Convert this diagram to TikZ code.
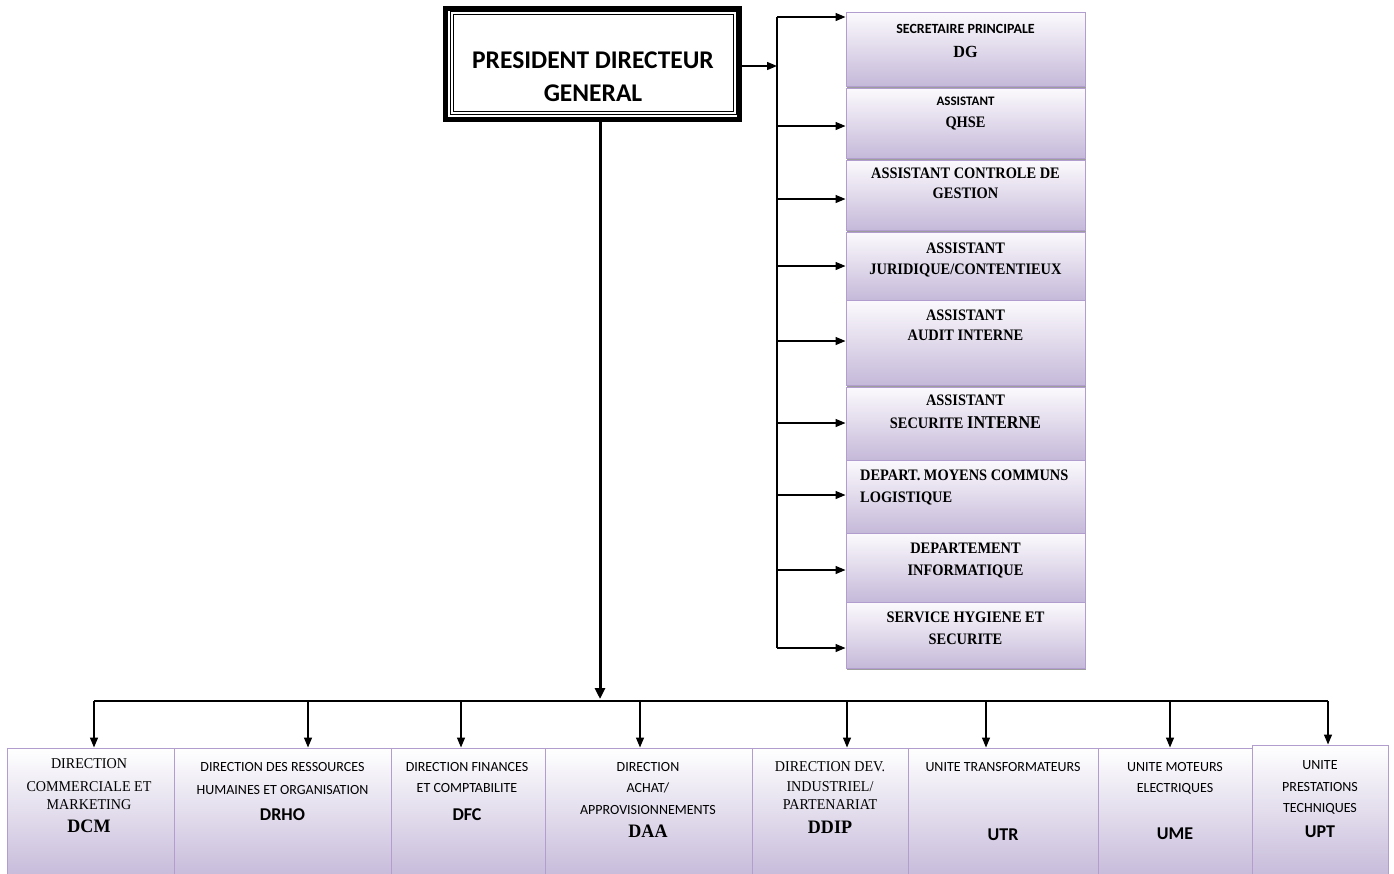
\documentclass[tikz,border=0pt]{standalone}
\usepackage{fontspec}
\usetikzlibrary{arrows.meta,shadows}
\newfontfamily\sansf{Carlito}
\newfontfamily\serc[FakeStretch=0.9]{Liberation Serif}
\newfontfamily\serr[FakeStretch=0.94]{Liberation Serif}
\newfontfamily\serw[FakeStretch=0.95]{Liberation Serif}
\newcommand\fs[1]{\fontsize{#1}{#1}\selectfont}

\definecolor{lavtop}{RGB}{252,250,253}
\definecolor{lavbot}{RGB}{197,185,217}
\definecolor{lavline}{RGB}{178,158,206}

\tikzset{
  rbox/.style={draw=lavline, line width=1, top color=lavtop, bottom color=lavbot,
    minimum width=239, minimum height=#1, inner sep=0,
    drop shadow={shadow xshift=0.5, shadow yshift=-2, fill=black!55, opacity=0.7}},
  bbox/.style={draw=lavline, line width=1, top color=white, bottom color=lavbot,
    minimum width=#1, inner sep=0},
  tl/.style={anchor=base, inner sep=0},
  tlw/.style={anchor=base west, inner sep=0},
  arr/.style={line width=1.4, -{Triangle[length=10,width=8]}},
  bigarr/.style={line width=3, -{Triangle[length=11,width=10]}},
  busline/.style={line width=1.4},
  hbus/.style={line width=2},
  sb/.style={font=\sansf\bfseries\fs{#1}},
  sr/.style={font=\sansf\fs{#1}},
  cb/.style={font=\serc\bfseries\fs{#1}},
  cr/.style={font=\serr\fs{#1}},
  wb/.style={font=\serw\bfseries\fs{#1}},
}

\begin{document}
\begin{tikzpicture}[x=1pt,y=1pt]
\useasboundingbox (0,0) rectangle (1394,-873);

% ---- President directeur general ----
\node[draw, line width=5, minimum width=294, minimum height=111, inner sep=0] (pdg) at (592.5,-64) {};
\draw[double, line width=0.8, double distance=1.5]
  ([shift={(9,-7)}]pdg.north west) rectangle ([shift={(-7,9)}]pdg.south east);
\node[tl, sb=25.5] (pdgt1) at (593,-68.5) {PRESIDENT DIRECTEUR};
\node[tl, sb=25.5] (pdgt2) at (593,-101) {GENERAL};

% ---- staff boxes on the right ----
\node[rbox=74] (rb1) at (965.5,-49) {};
\node[rbox=70] (rb2) at (965.5,-123) {};
\node[rbox=70] (rb3) at (965.5,-195) {};
\node[rbox=68] (rb4) at (965.5,-266) {};
\node[rbox=85] (rb5) at (965.5,-342.5) {};
\node[rbox=73] (rb6) at (965.5,-423.5) {};
\node[rbox=73] (rb7) at (965.5,-496.5) {};
\node[rbox=69] (rb8) at (965.5,-567.5) {};
\node[rbox=66] (rb9) at (965.5,-635) {};

\node[tl, sb=14] (rb1a) at (965.5,-33.5) {SECRETAIRE PRINCIPALE};
\node[tl, wb=17] (rb1b) at (965.5,-57.7) {DG};
\node[tl, sb=13] (rb2a) at (965.5,-105.5) {ASSISTANT};
\node[tl, cb=16] (rb2b) at (965.5,-127.3) {QHSE};
\node[tl, cb=16] (rb3a) at (965.5,-178.3) {ASSISTANT CONTROLE DE};
\node[tl, cb=16] (rb3b) at (965.5,-198.3) {GESTION};
\node[tl, cb=16] (rb4a) at (965.5,-253.3) {ASSISTANT};
\node[tl, cb=16] (rb4b) at (965.5,-274.3) {JURIDIQUE/CONTENTIEUX};
\node[tl, cb=16] (rb5a) at (965.5,-320.3) {ASSISTANT};
\node[tl, cb=16] (rb5b) at (965.5,-340.3) {AUDIT INTERNE};
\node[tl, cb=16] (rb6a) at (965.5,-405.3) {ASSISTANT};
\node[tl, cb=16] (rb6b) at (965.5,-428.5) {SECURITE {\fs{18}INTERNE}};
\node[tlw, cb=16] (rb7a) at (860,-480.3) {DEPART. MOYENS COMMUNS};
\node[tlw, cb=16] (rb7b) at (860,-502.3) {LOGISTIQUE};
\node[tl, cb=16] (rb8a) at (965.5,-553.3) {DEPARTEMENT};
\node[tl, cb=16] (rb8b) at (965.5,-575.3) {INFORMATIQUE};
\node[tl, cb=16] (rb9a) at (965.5,-622.3) {SERVICE HYGIENE ET};
\node[tl, cb=16] (rb9b) at (965.5,-644.3) {SECURITE};

% ---- right-hand distribution bus ----
\coordinate (v0) at (777,-66);
\coordinate (v1) at (777,-17);
\coordinate (v2) at (777,-126);
\coordinate (v3) at (777,-199);
\coordinate (v4) at (777,-266);
\coordinate (v5) at (777,-341);
\coordinate (v6) at (777,-423);
\coordinate (v7) at (777,-495);
\coordinate (v8) at (777,-570);
\coordinate (v9) at (777,-648);
\draw[busline] (v1) -- (v9);
\draw[arr] (pdg.east |- v0) -- (v0);
\foreach \i in {1,...,9} {
  \draw[arr] (v\i) -- (v\i -| rb\i.west);
}

% ---- directions and units along the bottom ----
\node[bbox=167, minimum height=132] (dcm)  at (90.5,-814) {};
\node[bbox=217, minimum height=132] (drho) at (282.5,-814) {};
\node[bbox=154, minimum height=132] (dfc)  at (468,-814) {};
\node[bbox=207, minimum height=132] (daa)  at (648.5,-814) {};
\node[bbox=156, minimum height=132] (ddip) at (830,-814) {};
\node[bbox=190, minimum height=132] (utr)  at (1003,-814) {};
\node[bbox=154, minimum height=132] (ume)  at (1175,-814) {};
\node[bbox=136, minimum height=135] (upt)  at (1320,-812.5) {};

\node[tl, cr=15] (dcma) at (89,-768) {DIRECTION};
\node[tl, cr=15] (dcmb) at (89,-791) {COMMERCIALE ET};
\node[tl, cr=15] (dcmc) at (89,-809) {MARKETING};
\node[tl, wb=19] (dcmd) at (89,-832.3) {DCM};

\node[tl, sr=14] (drhoa) at (282.5,-771.3) {DIRECTION DES RESSOURCES};
\node[tl, sr=14] (drhob) at (282.5,-794.3) {HUMAINES ET ORGANISATION};
\node[tl, sb=18] (drhoc) at (282.5,-820.8) {DRHO};

\node[tl, sr=14] (dfca) at (467,-771.3) {DIRECTION FINANCES};
\node[tl, sr=14] (dfcb) at (467,-792.3) {ET COMPTABILITE};
\node[tl, sb=18] (dfcc) at (467,-820.8) {DFC};

\node[tl, sr=14] (daaa) at (648,-771.3) {DIRECTION};
\node[tl, sr=14] (daab) at (648,-792.3) {ACHAT/};
\node[tl, sr=14] (daac) at (648,-814.3) {APPROVISIONNEMENTS};
\node[tl, wb=19] (daad) at (648,-837.3) {DAA};

\node[tl, cr=15] (ddipa) at (830,-771) {DIRECTION DEV.};
\node[tl, cr=15] (ddipb) at (830,-791) {INDUSTRIEL/};
\node[tl, cr=15] (ddipc) at (830,-809) {PARTENARIAT};
\node[tl, wb=19] (ddipd) at (830,-833.3) {DDIP};

\node[tl, sr=14] (utra) at (1003,-771.3) {UNITE TRANSFORMATEURS};
\node[tl, sb=18] (utrb) at (1003,-840.8) {UTR};

\node[tl, sr=14] (umea) at (1175,-771.3) {UNITE MOTEURS};
\node[tl, sr=14] (umeb) at (1175,-792.3) {ELECTRIQUES};
\node[tl, sb=18] (umec) at (1175,-839.8) {UME};

\node[tl, sr=14] (upta) at (1320,-769.3) {UNITE};
\node[tl, sr=14] (uptb) at (1320,-791.3) {PRESTATIONS};
\node[tl, sr=14] (uptc) at (1320,-812.3) {TECHNIQUES};
\node[tl, sb=18] (uptd) at (1320,-837.8) {UPT};

% ---- main trunk and lower bus ----
\coordinate (pdgfoot) at (600,-699);
\draw[bigarr] (pdg.south -| pdgfoot) -- (pdgfoot);
\coordinate (h1) at (94,-701);
\coordinate (h2) at (308,-701);
\coordinate (h3) at (461,-701);
\coordinate (h4) at (640,-701);
\coordinate (h5) at (847,-701);
\coordinate (h6) at (986,-701);
\coordinate (h7) at (1170,-701);
\coordinate (h8) at (1328,-701);
\draw[hbus] (h1) -- (h8);
\foreach \h/\b in {h1/dcm,h2/drho,h3/dfc,h4/daa,h5/ddip,h6/utr,h7/ume,h8/upt} {
  \draw[arr] (\h) -- (\h |- \b.north);
}
\end{tikzpicture}
\end{document}
